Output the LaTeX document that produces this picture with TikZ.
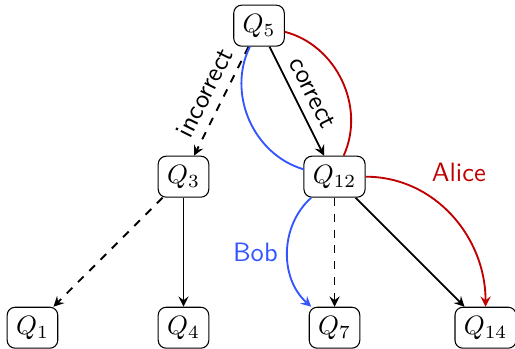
\documentclass[tikz,border=0pt]{standalone}
\usetikzlibrary{arrows}
\definecolor{rot}{RGB}{192,0,0}
\definecolor{blau}{RGB}{51,85,255}
\tikzset{
	zustand/.style={draw, thin, rounded corners=3pt, minimum height=0.53cm},
	beschr/.style={font=\sffamily},
	kante/.style={line width=0.7pt}
}
\begin{document}
\begin{tikzpicture}[>=stealth]
\useasboundingbox (-0.43,-0.278) rectangle (6.39,4.34);

%Zustaende
\node[zustand] (q5) at (3,4) {$Q_5$};
\node[zustand] (q3) at (2,2) {$Q_3$};
\node[zustand] (q12) at (4,2) {$Q_{12}$};
\foreach \name/\x/\lab in
{
q1/0/1,
q4/2/4,
q7/4/7,
q14/6/14
}
{
	\node[zustand] (\name) at (\x,0) {$Q_{\lab}$};
}

%Uebergaenge
\draw[kante, ->, dashed] (q5) -- node[beschr, above, sloped] {incorrect} (q3);
\draw[kante, ->] (q5) -- node[beschr, above, sloped] {correct} (q12);
\draw[kante, ->, dashed] (q3) -- (q1);
\draw[kante, ->] (q3) -- (q4);
\draw[kante, ->, dashed] (q12) -- (q7);
\draw[kante, ->] (q12) -- (q14);

%Spieler
\draw[kante, color=blau] (q5) to[bend right=50] (q12);
\draw[kante, color=rot] (q5) to[bend left=50] (q12);
\draw[kante, ->, color=blau] (q12) to[bend right=48] node[beschr, left] {Bob} (q7);
\draw[kante, ->, color=rot] (q12.east) to[out=0, in=90] node[beschr, pos=0.3, above right] {Alice} (q14.north);

\end{tikzpicture}
\end{document}
